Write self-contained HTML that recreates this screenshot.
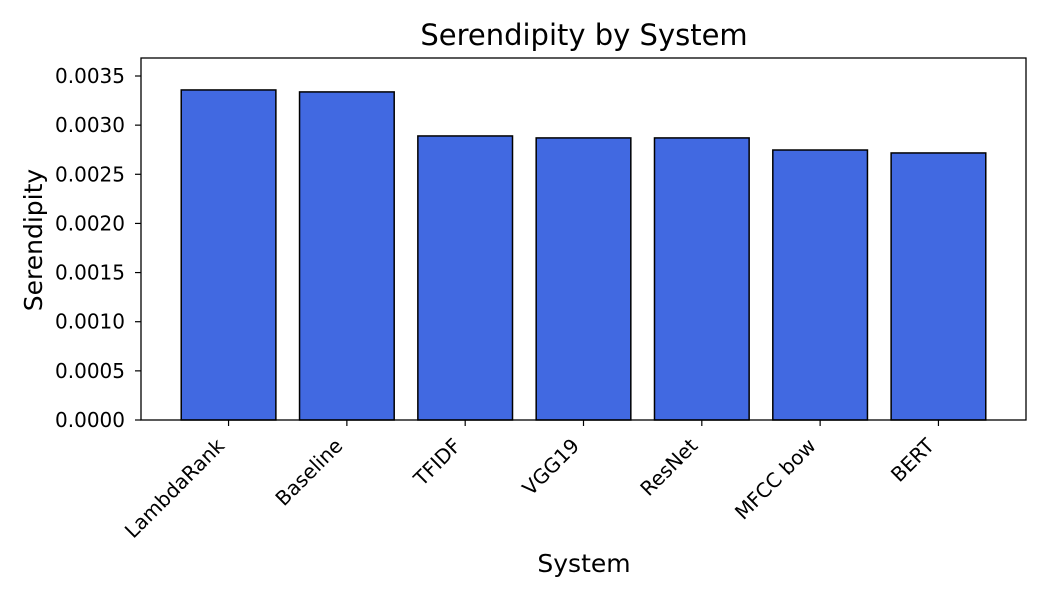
<!DOCTYPE html>
<html><head><meta charset="utf-8"><style>
body{margin:0;background:#fff;font-family:"DejaVu Sans",sans-serif}
</style></head><body>
<svg id="chart" width="1050" height="600" xmlns="http://www.w3.org/2000/svg" font-family="DejaVu Sans, sans-serif">
<rect width="1050" height="600" fill="#fff"/>
<text x="584" y="45" font-size="29" text-anchor="middle">Serendipity by System</text>
<text x="584" y="572" font-size="25" text-anchor="middle">System</text>
<text transform="translate(42,240) rotate(-90)" font-size="25" text-anchor="middle">Serendipity</text>
<g id="bars"></g><g id="yt"></g><g id="xt"></g>
<rect x="141" y="58" width="885" height="362" fill="none" stroke="#000" stroke-width="1.3"/>
</svg>
<script>
const categories=["LambdaRank","Baseline","TFIDF","VGG19","ResNet","MFCC bow","BERT"];
const values=[0.003358,0.003338,0.00289,0.00287,0.00287,0.002747,0.002717];
const yTicks=[0,0.0005,0.001,0.0015,0.002,0.0025,0.003,0.0035];
const yTickLabels=["0.0000","0.0005","0.0010","0.0015","0.0020","0.0025","0.0030","0.0035"];
const NS="http://www.w3.org/2000/svg";
const L=141,R=1026,T=58,B=420;
const yMax=0.0035*(B-T)/(420-76);
function y(v){return B-v/yMax*(B-T);}
const xMin=-0.74,xMax=categories.length-1+0.74;
function x(i){return L+(i-xMin)/(xMax-xMin)*(R-L);}
const unit=(R-L)/(xMax-xMin);
function mk(t,a,p){const e=document.createElementNS(NS,t);for(const k in a)e.setAttribute(k,a[k]);p.appendChild(e);return e;}
const bars=document.getElementById('bars'),yt=document.getElementById('yt'),xt=document.getElementById('xt');
values.forEach((v,i)=>{
 const r=mk('rect',{x:x(i)-0.4*unit,y:y(v),width:0.8*unit,height:B-y(v),fill:'#4169e1',stroke:'#000','stroke-width':1.5},bars);
 
 
 mk('line',{x1:x(i),x2:x(i),y1:B,y2:B+6,stroke:'#000','stroke-width':1.2},xt);
 const t=mk('text',{x:0,y:0,'font-size':20,'text-anchor':'end',transform:`translate(${x(i)-3},${B+27}) rotate(-45)`},xt);
 t.textContent=categories[i];
 
 
});
yTicks.forEach((v,i)=>{
 mk('line',{x1:L-6,x2:L,y1:y(v),y2:y(v),stroke:'#000','stroke-width':1.2},yt);
 const t=mk('text',{x:L-16,y:y(v)+7,'font-size':20,'text-anchor':'end'},yt);
 t.textContent=yTickLabels[i];
 
 
});
</script>
</body></html>
